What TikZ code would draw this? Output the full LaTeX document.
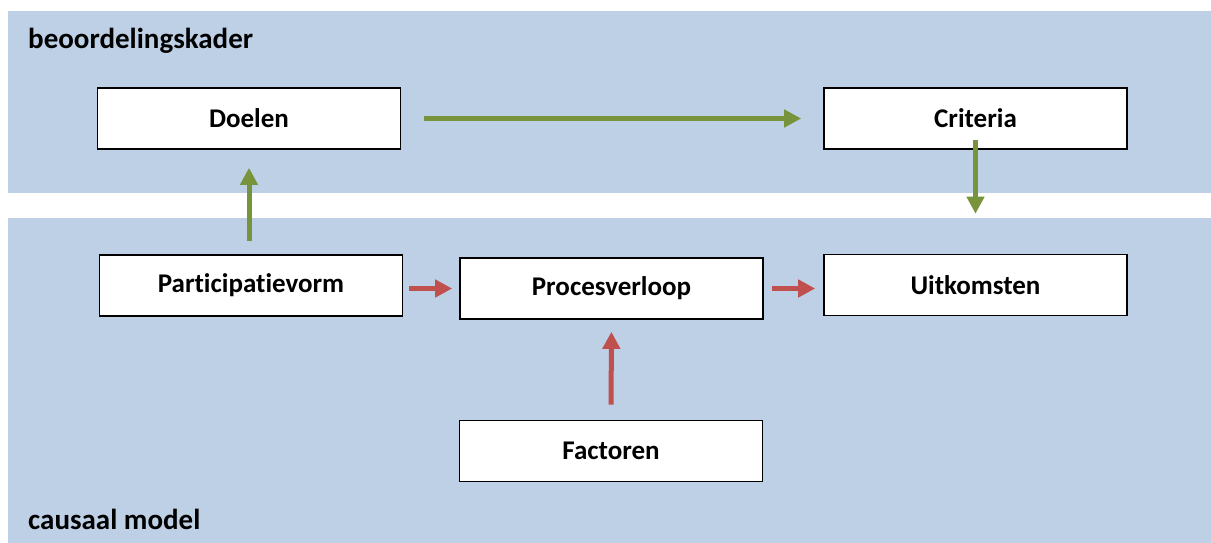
\documentclass[tikz,border=0pt]{standalone}
\usepackage{fontspec}
\setmainfont[RawFeature=-liga]{Carlito}
\usetikzlibrary{arrows.meta,calc}
\definecolor{bandblue}{HTML}{BED0E6}
\definecolor{arrgreen}{HTML}{77933C}
\definecolor{arrred}{HTML}{C0504D}
\tikzset{
  box/.style={draw=black, line width=1.6pt, fill=white, minimum width=303pt, minimum height=61pt, inner sep=0pt, font=\fontsize{27}{30}\selectfont\bfseries},
  title/.style={anchor=west, inner sep=0pt, font=\fontsize{29}{32}\selectfont\bfseries},
  garrow/.style={draw=arrgreen, line width=5pt, -{Triangle[width=17pt,length=17pt]}},
  rarrow/.style={draw=arrred, line width=5pt, -{Triangle[width=17pt,length=17pt]}},
}
\begin{document}
\begin{tikzpicture}[x=1pt,y=-1pt]
\useasboundingbox (0,0) rectangle (1211,543);
\fill[bandblue] (8,11) rectangle (1211,193);
\fill[bandblue] (8,218) rectangle (1211,543);
\node[title] (kader) at (28,41) {beoordelingskader};
\node[title] (causaal) at (28,519) {causaal model};
\node[box] (doelen) at (249,118.5) {Doelen};
\node[box] (criteria) at (975.5,118.5) {Criteria};
\node[box] (part) at (251,285.5) {Participatievorm};
\node[box] (proc) at (611.5,288.5) {Procesverloop};
\node[box] (uit) at (975.5,285) {Uitkomsten};
\node[box] (fact) at (611,451) {Factoren};
\draw[garrow, shorten <=23pt, shorten >=22pt] (doelen.east) -- (criteria.west);
\draw[garrow, shorten <=-10pt, shorten >=40pt] (criteria.south) -- (criteria.south |- uit.north);
\draw[garrow, shorten <=13pt, shorten >=18pt] (doelen.south |- part.north) -- (doelen.south);
\draw[rarrow, shorten <=6pt, shorten >=7pt] (part.east |- proc.west) -- (proc.west);
\draw[rarrow, shorten <=8pt, shorten >=8pt] (proc.east) -- (proc.east -| uit.west);
\draw[rarrow, shorten <=15pt, shorten >=12pt] (fact.north) -- (proc.south);
\end{tikzpicture}
\end{document}
